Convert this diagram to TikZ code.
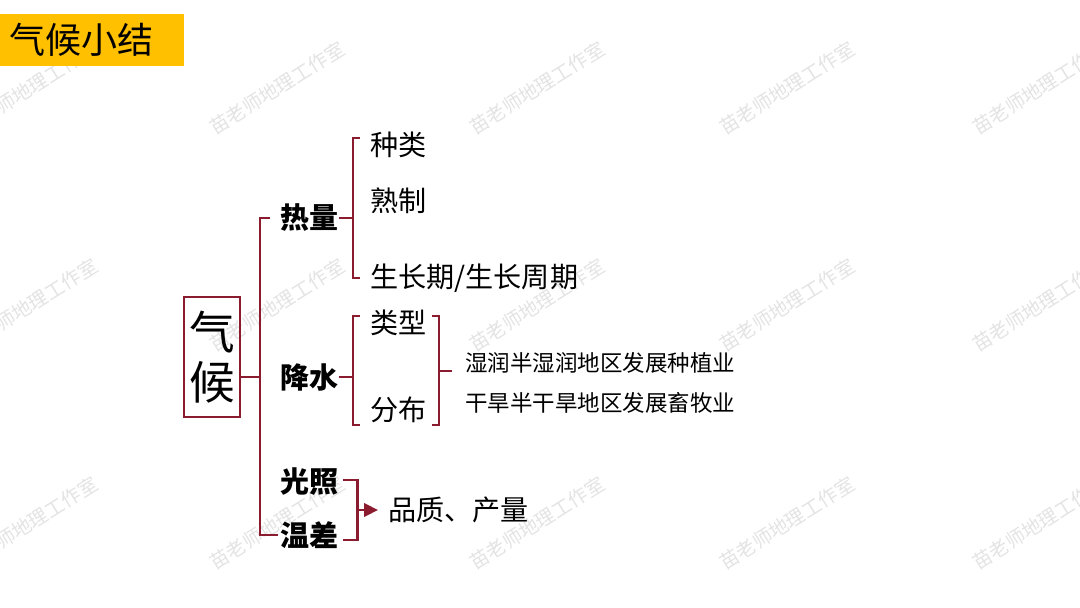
\documentclass[tikz,border=0pt]{standalone}
\usepackage{fontspec}
\setmainfont{Noto Sans CJK SC}
\usetikzlibrary{arrows.meta,positioning}
\definecolor{wine}{RGB}{139,28,48}
\definecolor{titlegold}{RGB}{255,192,0}

\begin{document}
\begin{tikzpicture}[
  x=0.02cm,
  y=-0.02cm,
  every node/.style={inner sep=0pt, anchor=west},
  wmark/.style={font=\fontsize{11}{11}\selectfont, text=black!11, rotate=32, anchor=center},
  titlebox/.style={fill=titlegold, font=\fontsize{20.5}{24}\selectfont, text width=3.32cm, inner xsep=0.18cm, minimum height=1.04cm, align=left},
  rootbox/.style={draw=wine, line width=1.3pt, anchor=center, align=center, minimum width=1.12cm, minimum height=2.4cm, font=\fontsize{26}{28.5}\selectfont},
  factor/.style={font=\fontsize{16.5}{18}\selectfont\bfseries},
  item/.style={font=\fontsize{16}{18}\selectfont},
  detail/.style={font=\fontsize{12.8}{14}\selectfont},
  link/.style={wine, line width=1.35pt},
  arrow/.style={link, -{Triangle[length=0.28cm, width=0.27cm]}}
]
\useasboundingbox (0,0) rectangle (1080,608);

% watermark
\foreach \wx in {30,277,537,787,1040}
  \foreach \wy in {88,305,523}
    \node[wmark] (wm-\wx-\wy) at (\wx,\wy) {苗老师地理工作室};

\node[titlebox] (title) at (0,40) {气候小结};

\node[rootbox] (climate) at (212,357) {气\\候};
\node[factor] (heat) at (280,218) {热量};
\node[factor] (rain) at (280,377) {降水};
\node[factor] (light) at (280,482) {光照};
\node[factor] (tempdiff) at (280,535) {温差};

\node[item] (kind) at (370,145) {种类};
\node[item] (ripen) at (370,201) {熟制};
\node[item] (season) at (370,278) {生长期/生长周期};
\node[item] (rtype) at (370,323) {类型};
\node[item] (spread) at (370,410) {分布};
\node[detail] (farm) at (465,363) {湿润半湿润地区发展种植业};
\node[detail] (graze) at (465,403) {干旱半干旱地区发展畜牧业};
\node[item] (yield) at (388,510) {品质、产量};

% trunk
\draw[link] ([xshift=-0.2cm]heat.west) -- ++(-10,0) |- ([xshift=-0.04cm]tempdiff.west);
\draw[link] (climate.east |- rain.west) -- ++(20,0);

% heat
\draw[link] (heat.east) -- ++(13,0);
\draw[link] ([xshift=-0.2cm, yshift=0.14cm]kind.west) -- ++(-7,0) |- ([xshift=-0.2cm]season.west);

% rain
\draw[link] (rain.east) -- ++(13,0);
\draw[link] ([xshift=-0.2cm, yshift=0.14cm]rtype.west) -- ++(-7,0) |- ([xshift=-0.2cm, yshift=-0.3cm]spread.west);
\draw[link] ([xshift=0.1cm, yshift=0.14cm]rtype.east) -- ++(7,0) |- ([xshift=0.1cm, yshift=-0.3cm]spread.east);
\coordinate (rainmid) at (440,371);
\draw[link] (rainmid) -- ++(12,0);

% light and temperature range
\draw[link] ([xshift=0.08cm, yshift=0.04cm]light.east) -- ++(15,0) |- ([xshift=0.08cm, yshift=-0.1cm]tempdiff.east);
\draw[arrow] ([xshift=0.38cm]light.east |- yield.west) -- ([xshift=-0.2cm]yield.west);
\end{tikzpicture}
\end{document}
